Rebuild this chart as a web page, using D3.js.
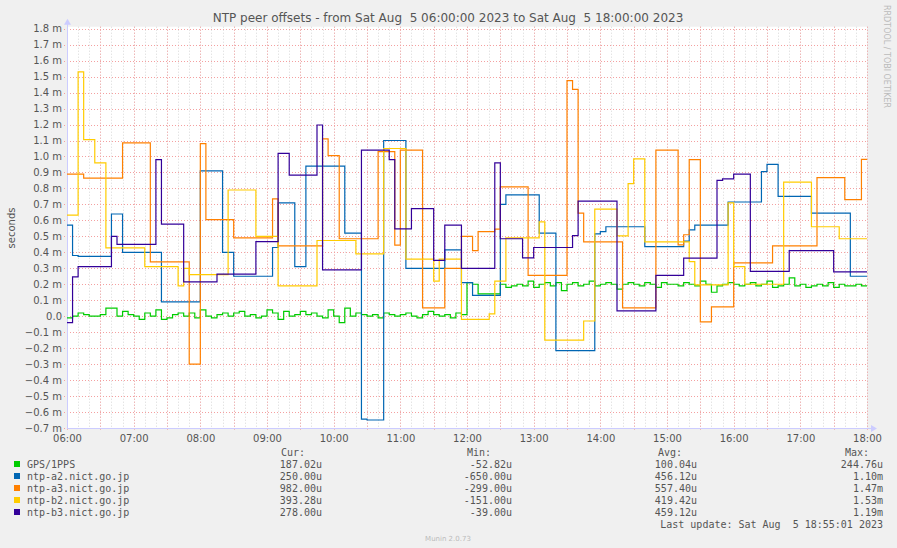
<!DOCTYPE html>
<html><head><meta charset="utf-8">
<script src="https://cdn.jsdelivr.net/npm/d3@7/dist/d3.min.js"></script>
<style>body{margin:0;background:#f0f0f0}svg{display:block}</style></head>
<body><svg id="c" width="897" height="548"></svg>
<script>
const seriesNames = ["GPS/1PPS","ntp-a2.nict.go.jp","ntp-a3.nict.go.jp","ntp-b2.nict.go.jp","ntp-b3.nict.go.jp"];
const colors = ["#00cc00","#0066b3","#ff8000","#ffcc00","#330099"];
const yTicks = [-0.7,-0.6,-0.5,-0.4,-0.3,-0.2,-0.1,0,0.1,0.2,0.3,0.4,0.5,0.6,0.7,0.8,0.9,1.0,1.1,1.2,1.3,1.4,1.5,1.6,1.7,1.8];
const xTickLabels = ["06:00","07:00","08:00","09:00","10:00","11:00","12:00","13:00","14:00","15:00","16:00","17:00","18:00"];
const legendCur = ["187.02u","250.00u","982.00u","393.28u","278.00u"];
const legendMin = ["-52.82u","-650.00u","-299.00u","-151.00u","-39.00u"];
const legendAvg = ["100.04u","456.12u","557.40u","419.42u","459.12u"];
const legendMax = ["244.76u","1.10m","1.47m","1.53m","1.19m"];
// GPS/1PPS: 5-minute values from 06:00 (milliseconds)
const gps = [-0.01,0.0,0.02,0.01,0.0,0.0,0.01,0.05,0.05,0.0,0.03,0.01,0.0,-0.02,0.02,0.0,0.04,-0.02,-0.01,0.01,0.02,0.0,0.02,-0.01,0.04,0.0,-0.01,0.01,0.02,0.0,0.02,0.03,0.0,0.01,-0.01,0.0,0.04,0.02,-0.02,0.03,0.0,0.01,0.03,0.01,0.02,0.0,-0.01,0.04,0.0,-0.04,0.05,0.0,0.02,0.01,0.0,0.01,-0.01,0.02,0.01,0.0,0.01,0.02,0.0,-0.01,0.01,0.03,0.01,0.0,0.01,-0.01,0.02,0.01,
0.21,0.20,0.14,0.14,0.14,0.14,0.20,0.18,0.19,0.20,0.19,0.22,0.18,0.20,0.21,0.19,0.21,0.16,0.20,0.21,0.19,0.20,0.22,0.19,0.20,0.21,0.20,0.17,0.20,0.21,0.20,0.19,0.21,0.20,0.18,0.21,0.20,0.20,0.19,0.21,0.20,0.19,0.22,0.20,0.15,0.19,0.20,0.21,0.20,0.19,0.20,0.21,0.19,0.20,0.22,0.18,0.19,0.20,0.24,0.19,0.20,0.18,0.19,0.20,0.19,0.21,0.18,0.20,0.19,0.19,0.20,0.19];
const a2 = [["06:00",.57],["06:05",.38],["06:10",.375],["06:40",.64],["06:50",.40],["07:25",.09],["08:00",.91],["08:20",.40],["08:30",.25],["09:05",.43],["09:10",.71],["09:25",.31],["09:35",.94],["10:10",.52],["10:25",-.645],["10:30",-.65],["10:45",1.10],["11:05",.30],["11:40",.415],["11:55",.21],["12:05",.13],["12:30",.70],["12:35",.76],["13:05",.52],["13:20",-.215],["13:55",.515],["14:00",.53],["14:05",.56],["14:40",.435],["15:15",.47],["15:20",.54],["15:25",.57],["15:55",.715],["16:25",.905],["16:30",.95],["16:40",.75],["17:10",.645],["17:45",.25]];
const a3 = [["06:00",.89],["06:15",.865],["06:50",1.085],["07:15",.34],["07:50",-.30],["08:00",1.08],["08:05",.605],["08:30",.49],["09:05",.735],["09:10",.44],["09:50",1.11],["09:55",1.005],["10:05",.485],["10:40",1.03],["10:55",.445],["11:00",1.04],["11:20",.052],["11:40",.30],["11:55",.50],["12:05",.41],["12:10",.53],["12:25",.545],["12:30",.81],["12:55",.255],["13:30",1.475],["13:35",1.42],["13:40",.645],["13:45",.465],["14:20",.052],["14:50",1.04],["15:10",.446],["15:15",.51],["15:20",.98],["15:30",-.036],["15:40",.058],["16:00",.334],["16:35",.44],["17:15",.867],["17:40",.73],["17:55",.982]];
const b2 = [["06:00",.633],["06:10",1.53],["06:15",1.105],["06:25",.96],["06:35",.428],["07:10",.31],["07:40",.19],["07:45",.30],["07:50",.26],["08:25",.79],["08:50",.50],["09:10",.19],["09:45",.474],["10:20",.39],["10:45",1.05],["11:05",.357],["11:30",.22],["11:35",.357],["11:55",-.02],["12:20",.015],["12:25",.22],["12:35",.49],["13:05",.59],["13:10",-.15],["13:45",-.03],["13:55",.67],["14:15",.503],["14:25",.83],["14:30",.985],["14:40",.465],["15:20",.342],["15:25",.196],["15:55",.71],["16:00",.31],["16:10",.20],["16:45",.84],["17:10",.56],["17:35",.485]];
const b3 = [["06:00",-.04],["06:05",.246],["06:10",.31],["06:40",.50],["06:45",.45],["07:20",.98],["07:25",.576],["07:45",.215],["08:15",.263],["08:50",.467],["09:10",1.02],["09:20",.883],["09:45",1.197],["09:50",.29],["10:25",1.04],["10:50",.98],["10:55",.547],["11:10",.674],["11:30",.35],["11:40",.57],["11:55",.30],["12:25",.96],["12:30",.485],["12:50",.365],["13:00",.43],["13:35",.505],["13:40",.72],["14:15",.033],["14:50",.255],["15:15",.363],["15:45",.85],["15:50",.86],["16:00",.89],["16:15",.28],["16:50",.41],["17:30",.278]];

const svg = d3.select("#c");
const L=67,R=867,T=28.7,B=428;
const parse = d3.timeParse("%H:%M");
const t0=parse("06:00"), t1=parse("18:00");
const x = d3.scaleTime().domain([t0,t1]).range([L,R]);
const y = d3.scaleLinear().domain([-0.7,1.8]).range([B,T]);
const txt="#555";

svg.append("rect").attr("x",L).attr("y",T-2).attr("width",R-L).attr("height",B-T+2).attr("fill","#fff");
const minor = d3.timeMinute.every(10).range(t0,d3.timeMinute.offset(t1,1));
svg.append("g").selectAll("line").data(minor).join("line")
 .attr("x1",d=>Math.round(x(d))+.5).attr("x2",d=>Math.round(x(d))+.5).attr("y1",T-2).attr("y2",B)
 .attr("stroke","#d8d8d8").attr("stroke-dasharray","1,2");
const major = d3.timeMinute.every(30).range(t0,d3.timeMinute.offset(t1,1));
svg.append("g").selectAll("line").data(major).join("line")
 .attr("x1",d=>Math.round(x(d))+.5).attr("x2",d=>Math.round(x(d))+.5).attr("y1",T-2).attr("y2",B+3)
 .attr("stroke","#f4a0a0").attr("stroke-dasharray","1,2");
svg.append("g").selectAll("line").data(yTicks).join("line")
 .attr("x1",L-3).attr("x2",R).attr("y1",d=>Math.round(y(d))+.5).attr("y2",d=>Math.round(y(d))+.5)
 .attr("stroke","#f4a0a0").attr("stroke-dasharray","1,2");
const yAx = d3.axisLeft(y).tickValues(yTicks).tickSize(0).tickPadding(5)
 .tickFormat(d=>Math.abs(d)<1e-9?"0.0":d3.format(".1f")(d)+" m");
const gy=svg.append("g").attr("transform",`translate(${L},0)`).call(yAx);
gy.select(".domain").remove();
gy.selectAll("text").attr("fill",txt).style("font-family","DejaVu Sans").style("font-size","10px");
const xAx = d3.axisBottom(x).tickValues(xTickLabels.map(parse)).tickSize(0).tickPadding(7).tickFormat(d3.timeFormat("%H:%M"));
const gx=svg.append("g").attr("transform",`translate(0,${B})`).call(xAx);
gx.select(".domain").remove();
gx.selectAll("text").attr("fill",txt).style("font-family","DejaVu Sans").style("font-size","10px");
svg.append("line").attr("x1",L+.5).attr("x2",L+.5).attr("y1",B).attr("y2",T-6).attr("stroke","#ccccff");
svg.append("line").attr("x1",L).attr("x2",R+6).attr("y1",B+.5).attr("y2",B+.5).attr("stroke","#ccccff");
svg.append("path").attr("d",`M${L-3},${T-4}L${L+4},${T-4}L${L+.5},${T-10}Z`).attr("fill","#ccccff");
svg.append("path").attr("d",`M${R+4},${B-3}L${R+4},${B+4}L${R+10},${B+.5}Z`).attr("fill","#ccccff");

const stepLine = d3.line().x(d=>x(d[0])).y(d=>y(d[1])).curve(d3.curveStepAfter);
const toPts = arr => { const p=arr.map(d=>[parse(d[0]),d[1]]); p.push([t1,arr[arr.length-1][1]]); return p; };
const gpsPts = gps.map((v,i)=>[d3.timeMinute.offset(t0,5*i),v]); gpsPts.push([t1,gps[gps.length-1]]);
const all=[gpsPts,toPts(a2),toPts(a3),toPts(b2),toPts(b3)];
svg.append("g").selectAll("path").data(all).join("path").attr("d",stepLine)
 .attr("fill","none").attr("stroke",(d,i)=>colors[i]).attr("stroke-width",1.2);

svg.append("text").attr("x",448).attr("y",22).attr("text-anchor","middle").attr("fill",txt)
 .style("font-family","DejaVu Sans").style("font-size","12px").attr("xml:space","preserve")
 .text("NTP peer offsets - from Sat Aug  5 06:00:00 2023 to Sat Aug  5 18:00:00 2023");
svg.append("text").attr("transform","translate(15,228) rotate(-90)").attr("text-anchor","middle").attr("fill",txt)
 .style("font-family","DejaVu Sans").style("font-size","10px").text("seconds");
svg.append("text").attr("transform","translate(884,5) rotate(90)").attr("fill","#bbb")
 .style("font-family","DejaVu Sans").style("font-size","8px").text("RRDTOOL / TOBI OETIKER");
const mono=t=>t.style("font-family","DejaVu Sans Mono").style("font-size","10px").attr("fill",txt);
const heads=[["Cur:",305],["Min:",491],["Avg:",682],["Max:",869]];
heads.forEach(h=>mono(svg.append("text").attr("x",h[1]).attr("y",456).attr("text-anchor","end").text(h[0])));
const cols=[[legendCur,322],[legendMin,512],[legendAvg,697],[legendMax,883]];
seriesNames.forEach((n,i)=>{
 const yy=468+i*12;
 svg.append("rect").attr("x",14).attr("y",yy-7).attr("width",6).attr("height",6).attr("fill",colors[i]);
 mono(svg.append("text").attr("x",27).attr("y",yy).text(n));
 cols.forEach(c=>mono(svg.append("text").attr("x",c[1]).attr("y",yy).attr("text-anchor","end").text(c[0][i])));
});
mono(svg.append("text").attr("x",883).attr("y",528).attr("text-anchor","end").attr("xml:space","preserve").text("Last update: Sat Aug  5 18:55:01 2023"));
svg.append("text").attr("x",448).attr("y",541).attr("text-anchor","middle").attr("fill","#bbb")
 .style("font-family","DejaVu Sans").style("font-size","7px").text("Munin 2.0.73");
</script></body></html>
